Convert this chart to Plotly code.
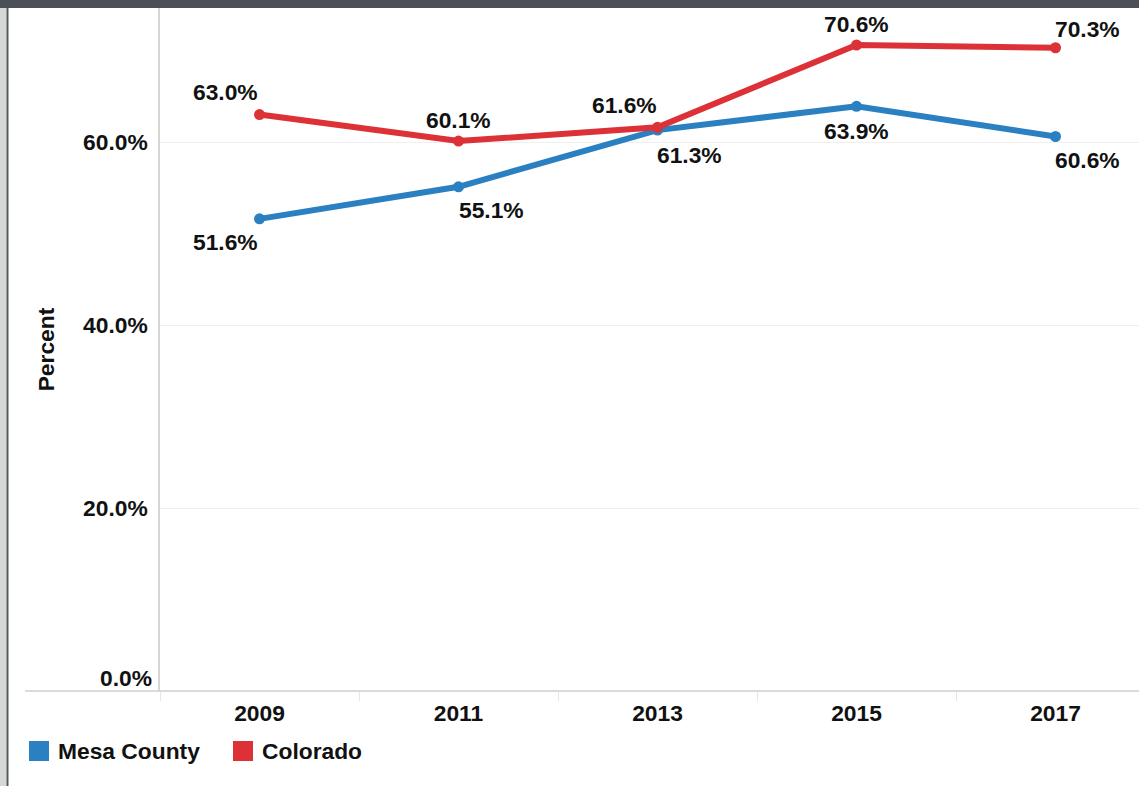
import plotly.graph_objects as go

# Share of residents, Mesa County vs. Colorado
years = [2009, 2011, 2013, 2015, 2017]
mesa_county = [51.6, 55.1, 61.3, 63.9, 60.6]
colorado = [63.0, 60.1, 61.6, 70.6, 70.3]
y_ticks = [0, 20, 40, 60]
series_names = ["Mesa County", "Colorado"]

BLUE = "#2b80c1"
RED = "#dc3237"
FONT = "Liberation Sans, Arial, sans-serif"
FS = 22.8
TXT = dict(family=FONT, size=FS, color="#111", weight="bold")
W, H = 1139, 786
L, R, T, B = 160, 0, 8, 95

# label offsets in pixels (x, y) relative to each point
mesa_off = [(-34, -23), (33, -23), (32, -25), (0, -25), (32, -23)]
colo_off = [(-34, 23), (0, 21), (-33, 22), (0, 21), (32, 19)]

fig = go.Figure()
fig.add_trace(go.Scatter(x=years, y=mesa_county, name=series_names[0], mode="lines+markers",
                         line=dict(color=BLUE, width=6), marker=dict(color=BLUE, size=11)))
fig.add_trace(go.Scatter(x=years, y=colorado, name=series_names[1], mode="lines+markers",
                         line=dict(color=RED, width=6), marker=dict(color=RED, size=11)))

for yr, v, (dx, dy) in zip(years, mesa_county, mesa_off):
    fig.add_annotation(x=yr, y=v, text=f"{v:.1f}%", showarrow=False, xshift=dx, yshift=dy, font=TXT)
for yr, v, (dx, dy) in zip(years, colorado, colo_off):
    fig.add_annotation(x=yr, y=v, text=f"{v:.1f}%", showarrow=False, xshift=dx, yshift=dy, font=TXT)

# the baseline tick label sits just above the axis
fig.add_annotation(xref="paper", x=0, y=0, text="0.0%", showarrow=False, xanchor="right",
                   xshift=-6, yshift=13, font=TXT)

pw = W - L - R
ph = H - T - B
px = lambda p: (p - L) / pw
py = lambda p: (H - B - p) / ph

shapes = [
    # top dark strip
    dict(type="rect", xref="paper", yref="paper", x0=px(0), x1=px(W), y0=py(8), y1=py(0),
         fillcolor="#4b4f57", line=dict(width=0), layer="above"),
    # left frame
    dict(type="rect", xref="paper", yref="paper", x0=px(0), x1=px(6.5), y0=py(H), y1=py(8),
         fillcolor="#d5d7d4", line=dict(width=0), layer="above"),
    dict(type="rect", xref="paper", yref="paper", x0=px(6.5), x1=px(8.5), y0=py(H), y1=py(8),
         fillcolor="#55585c", line=dict(width=0), layer="above"),
    # x axis baseline extended left
    dict(type="line", xref="paper", yref="paper", x0=px(25), x1=1, y0=0, y1=0,
         line=dict(color="#cfcfcf", width=1.5)),
]

# legend: square swatch + bold label for each series
legend_items = [(series_names[0], BLUE, 29), (series_names[1], RED, 233)]
for name, col, x0 in legend_items:
    shapes.append(dict(type="rect", xref="paper", yref="paper", x0=px(x0), x1=px(x0 + 20),
                       y0=py(761), y1=py(741), fillcolor=col, line=dict(width=0)))
    fig.add_annotation(xref="paper", yref="paper", x=px(x0 + 27), y=py(751), text=name,
                       showarrow=False, xanchor="left", yanchor="middle", font=TXT)

fig.update_layout(
    width=W, height=H,
    margin=dict(l=L, r=R, t=T, b=B),
    paper_bgcolor="white", plot_bgcolor="white",
    shapes=shapes,
    font=TXT,
    showlegend=False,
    xaxis=dict(range=[2008, 2008 + pw / 99.5], tickvals=years, ticktext=[str(y) for y in years],
               tickfont=TXT, showgrid=False, zeroline=False,
               showline=False, ticks="", ticklabelstandoff=6,
               minor=dict(tickvals=[2008, 2010, 2012, 2014, 2016], ticks="outside", ticklen=9,
                          tickcolor="#e6e6e6", tickwidth=1, showgrid=False)),
    yaxis=dict(range=[0, ph / 9.15], tickvals=y_ticks,
               ticktext=["" if t == 0 else f"{t:.1f}%" for t in y_ticks],
               tickfont=TXT, showgrid=True, gridcolor="#efefef",
               zeroline=False, showline=True, linecolor="#d6d6d6", linewidth=1.5,
               ticklabelstandoff=6,
               title=dict(text="Percent", font=TXT, standoff=22)),
)

fig.write_html("out.html")
